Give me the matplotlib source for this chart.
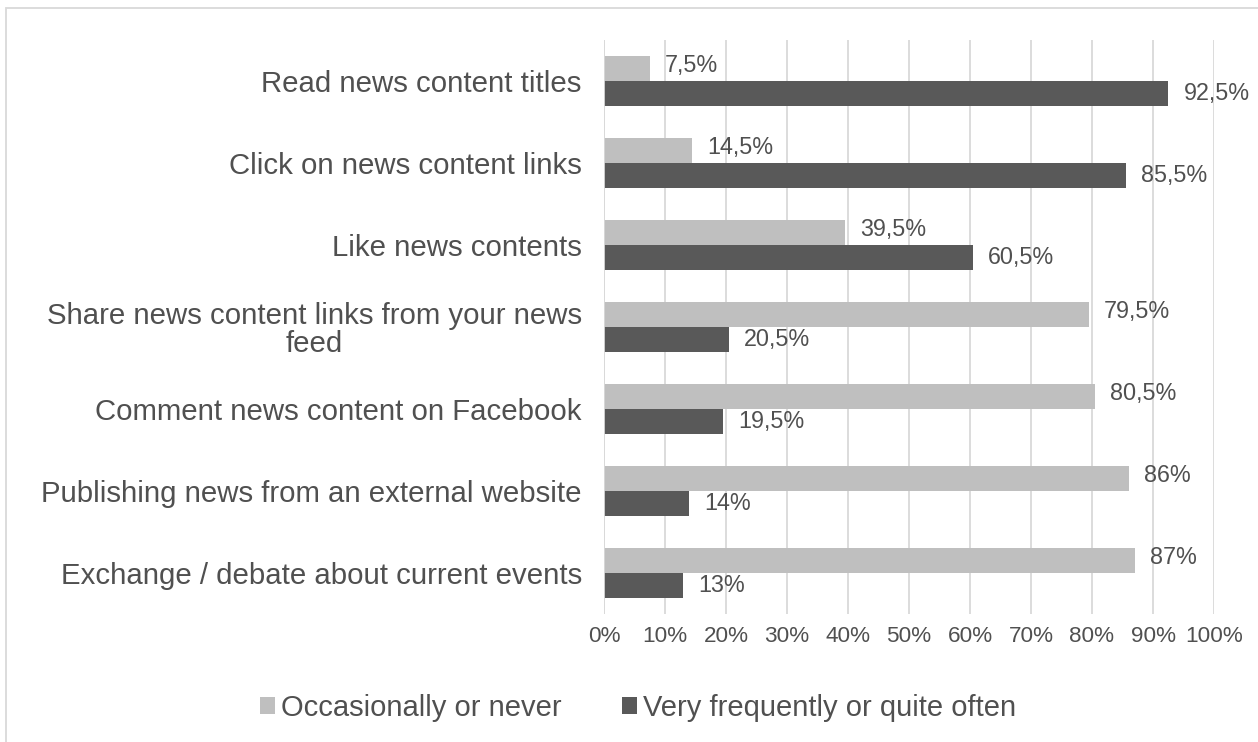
import matplotlib.pyplot as plt
from matplotlib.patches import Rectangle
import numpy as np

categories = [
    "Read news content titles",
    "Click on news content links",
    "Like news contents",
    "Share news content links from your news\nfeed",
    "Comment news content on Facebook",
    "Publishing news from an external website",
    "Exchange / debate about current events",
]
occasionally = [7.5, 14.5, 39.5, 79.5, 80.5, 86, 87]
frequently = [92.5, 85.5, 60.5, 20.5, 19.5, 14, 13]
series_names = ["Occasionally or never", "Very frequently or quite often"]
tick_values = [0, 10, 20, 30, 40, 50, 60, 70, 80, 90, 100]

light = "#bfbfbf"
dark = "#595959"
text_color = "#505050"

plt.rcParams["font.family"] = ["Liberation Sans", "DejaVu Sans"]

W, H = 1258, 742
fig = plt.figure(figsize=(W / 100, H / 100), dpi=100)
ax = fig.add_axes([604 / W, 1 - 614 / H, 610 / W, 574 / H])

n = len(categories)
y = np.arange(n)
h = 0.3

ax.barh(y - h / 2, occasionally, height=h, color=light, label=series_names[0], zorder=3)
ax.barh(y + h / 2, frequently, height=h, color=dark, label=series_names[1], zorder=3)


def fmt(v):
    s = f"{v:g}".replace(".", ",")
    return s + "%"


for i in range(n):
    ax.annotate(fmt(occasionally[i]), (occasionally[i], y[i] - h / 2), xytext=(11, 2),
                textcoords="offset points", ha="left", va="center", fontsize=16.8,
                color=text_color)
    ax.annotate(fmt(frequently[i]), (frequently[i], y[i] + h / 2), xytext=(11, 0),
                textcoords="offset points", ha="left", va="center", fontsize=16.8,
                color=text_color)

ax.set_xlim(0, 100)
ax.set_ylim(n - 0.5, -0.5)
ax.set_xticks(tick_values)
ax.set_xticklabels([f"{t}%" for t in tick_values], fontsize=16.2, color=text_color)
ax.set_yticks(y)
ax.set_yticklabels(categories, fontsize=21.2, color=text_color)
for lbl in ax.get_yticklabels():
    lbl.set_horizontalalignment("right")
    lbl.set_multialignment("center")
    lbl.set_linespacing(1.0)
ax.tick_params(axis="y", length=0, pad=16)
ax.tick_params(axis="x", length=0, pad=9)

ax.grid(axis="x", color="#d9d9d9", linewidth=1.3, zorder=0)
for s in ax.spines.values():
    s.set_visible(False)
ax.axvline(0, color="#d9d9d9", linewidth=1.3, zorder=4)

leg = fig.legend(loc="center", bbox_to_anchor=(638 / W, 1 - 708 / H), ncol=2, frameon=False,
                 fontsize=21, handlelength=0.5, handleheight=0.5, handletextpad=0.2,
                 columnspacing=2.1)
for t in leg.get_texts():
    t.set_color(text_color)

fig.patches.append(Rectangle((6 / W, -0.1), 1.2, 1 - 8 / H + 0.1, transform=fig.transFigure,
                             fill=False, edgecolor="#d9d9d9", linewidth=1.3))

fig.savefig("out.png", dpi=100)
